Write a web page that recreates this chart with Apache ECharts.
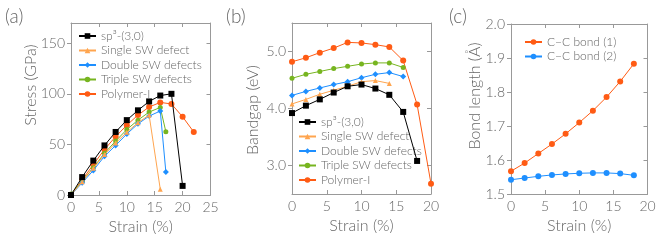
<!DOCTYPE html>
<html><head><meta charset="utf-8">
<script src="https://cdn.jsdelivr.net/npm/echarts@6/dist/echarts.min.js"></script>
<style>html,body{margin:0;padding:0;background:#fff}#c{width:664px;height:240px}</style>
</head><body><div id="c"></div>
<script>
// ---- Panel (a): stress vs strain ----
const stressNames = ['sp³-(3,0)', 'Single SW defect', 'Double SW defects', 'Triple SW defects', 'Polymer-I'];
const stressStrainSp3 = [0, 2, 4, 6, 8, 10, 12, 14, 16, 18, 20];
const stressSp3 = [0, 17.7, 34, 49, 62.3, 74, 83.7, 92.5, 98.3, 100, 9];
const stressStrainSingle = [0, 2, 4, 6, 8, 10, 12, 14, 16];
const stressSingle = [0, 13.2, 26.5, 40, 51.5, 62, 71.5, 79, 5.7];
const stressStrainDouble = [0, 2, 4, 6, 8, 10, 12, 14, 16, 17];
const stressDouble = [0, 12, 24.3, 38.3, 49, 60.3, 70.3, 78, 83, 22.7];
const stressStrainTriple = [0, 2, 4, 6, 8, 10, 12, 14, 16, 17];
const stressTriple = [1, 13.7, 27, 41.3, 53.3, 64.7, 74, 82, 86.5, 62.5];
const stressStrainPolymer = [0, 2, 4, 6, 8, 10, 12, 14, 16, 18, 20, 22];
const stressPolymer = [0, 15, 30, 45, 57.7, 69, 79, 87, 91.5, 90, 77.3, 62.3];
const stressYTicks = [0, 50, 100, 150];

// ---- Panel (b): bandgap vs strain ----
const gapStrainSp3 = [0, 2, 4, 6, 8, 10, 12, 14, 16, 18];
const gapSp3 = [3.92, 4.05, 4.16, 4.28, 4.39, 4.42, 4.35, 4.24, 3.94, 3.08];
const gapStrainSingle = [0, 2, 4, 6, 8, 10, 12, 14];
const gapSingle = [4.08, 4.16, 4.25, 4.32, 4.39, 4.47, 4.49, 4.44];
const gapStrainDouble = [0, 2, 4, 6, 8, 10, 12, 14, 16];
const gapDouble = [4.23, 4.30, 4.36, 4.42, 4.47, 4.54, 4.60, 4.63, 4.56];
const gapStrainTriple = [0, 2, 4, 6, 8, 10, 12, 14, 16];
const gapTriple = [4.53, 4.60, 4.65, 4.70, 4.74, 4.78, 4.80, 4.80, 4.72];
const gapStrainPolymer = [0, 2, 4, 6, 8, 10, 12, 14, 16, 18, 20];
const gapPolymer = [4.82, 4.89, 4.98, 5.06, 5.16, 5.15, 5.12, 5.08, 4.84, 4.07, 2.68];
const gapYTicks = [3, 4, 5];

// ---- Panel (c): bond length vs strain ----
const bondNames = ['C−C bond (1)', 'C−C bond (2)'];
const bondStrain = [0, 2, 4, 6, 8, 10, 12, 14, 16, 18];
const bond1 = [1.567, 1.591, 1.619, 1.647, 1.677, 1.710, 1.745, 1.785, 1.831, 1.883];
const bond2 = [1.542, 1.547, 1.552, 1.556, 1.559, 1.561, 1.562, 1.562, 1.560, 1.555];

const FONT = 'Lato, "Open Sans", sans-serif';
const TXT = '#666';
const AX = '#999';
const colors = ['#000000', '#ffa54f', '#1e8fff', '#77b520', '#ff5b14'];
const symbols = ['rect', 'triangle', 'diamond', 'circle', 'circle'];
const symSizes = [6, 5, 6, 5, 6];

const zip = (xs, ys) => xs.map((x, i) => [x, ys[i]]);

const grids = [
  { left: 71, top: 23, width: 139.5, height: 172 },
  { left: 292, top: 23, width: 139, height: 171 },
  { left: 511, top: 24, width: 136.5, height: 170 }
];

function xAx(gi, min, max, interval, top) {
  return {
    gridIndex: gi, type: 'value', min, max, interval, position: top ? 'top' : 'bottom',
    name: top ? '' : 'Strain (%)', nameLocation: 'middle', nameGap: 23,
    nameTextStyle: { color: TXT, fontSize: 16, fontFamily: FONT, fontWeight: 300 },
    axisLine: { show: true, onZero: false, lineStyle: { color: AX, width: 1 } },
    axisTick: { show: true, inside: true, length: 4, lineStyle: { color: AX } },
    axisLabel: { show: !top, color: TXT, fontSize: 14, fontFamily: FONT, fontWeight: 300, margin: 5 },
    splitLine: { show: false }
  };
}
function yAx(gi, min, max, ticks, right, fmt) {
  const o = {
    gridIndex: gi, type: 'value', min, max, position: right ? 'right' : 'left',
    axisLine: { show: true, onZero: false, lineStyle: { color: AX, width: 1 } },
    axisTick: { show: true, inside: !!right, length: 4, lineStyle: { color: AX } },
    axisLabel: { show: !right, color: TXT, fontSize: 14, fontFamily: FONT, fontWeight: 300, margin: 6, formatter: fmt },
    splitLine: { show: false }
  };
  if (ticks) {
    o.axisTick.customValues = ticks;
    o.axisLabel.customValues = ticks;
  } else {
    o.interval = 0.1;
  }
  return o;
}

function lineSeries(name, data, k, xi, yi) {
  return {
    type: 'line', name, data, xAxisIndex: xi, yAxisIndex: yi,
    symbol: symbols[k], symbolSize: symSizes[k], showSymbol: true,
    lineStyle: { color: colors[k], width: 1 },
    itemStyle: { color: colors[k] }, z: 10 - k, animation: false
  };
}

const seriesA = [
  zip(stressStrainSp3, stressSp3), zip(stressStrainSingle, stressSingle), zip(stressStrainDouble, stressDouble),
  zip(stressStrainTriple, stressTriple), zip(stressStrainPolymer, stressPolymer)
];
const seriesB = [
  zip(gapStrainSp3, gapSp3), zip(gapStrainSingle, gapSingle), zip(gapStrainDouble, gapDouble),
  zip(gapStrainTriple, gapTriple), zip(gapStrainPolymer, gapPolymer)
];

const series = [];
seriesA.forEach((d, k) => series.push(lineSeries(stressNames[k], d, k, 0, 0)));
seriesB.forEach((d, k) => series.push(lineSeries(stressNames[k], d, k, 2, 2)));
series.push(lineSeries(bondNames[0], zip(bondStrain, bond1), 4, 4, 4));
series.push(Object.assign(lineSeries(bondNames[1], zip(bondStrain, bond2), 2, 4, 4), { symbol: 'circle', symbolSize: 6 }));

const legendText = { color: TXT, fontSize: 12, fontFamily: FONT, fontWeight: 300 };
function legend(left, top, names) {
  return {
    left, top, orient: 'vertical', itemGap: 2.5, itemWidth: 17, itemHeight: 7,
    textStyle: legendText, padding: 0, data: names, selectedMode: false
  };
}

function vText(text, x, y) {
  return {
    type: 'text', x, y, rotation: Math.PI / 2,
    style: { text, fill: TXT, font: '300 16px ' + FONT, align: 'center', verticalAlign: 'middle' }
  };
}
function tText(text, x, y) {
  return { type: 'text', x, y, style: { text, fill: TXT, font: '300 19px ' + FONT } };
}

const chart = echarts.init(document.getElementById('c'), null, { renderer: 'canvas' });
chart.setOption({
  animation: false,
  grid: grids.map(g => Object.assign({ containLabel: false }, g)),
  xAxis: [
    xAx(0, 0, 25, 5, false), xAx(0, 0, 25, 5, true),
    xAx(1, 0, 20, 5, false), xAx(1, 0, 20, 5, true),
    xAx(2, 0, 20, 5, false), xAx(2, 0, 20, 5, true)
  ],
  yAxis: [
    yAx(0, 0, 170, stressYTicks, false), yAx(0, 0, 170, stressYTicks, true),
    yAx(1, 2.5, 5.5, gapYTicks, false, v => v.toFixed(1)), yAx(1, 2.5, 5.5, gapYTicks, true),
    yAx(2, 1.5, 2.0, null, false, v => v.toFixed(1)), yAx(2, 1.5, 2.0, null, true)
  ],
  legend: [
    legend(78, 30, stressNames.map((n, k) => ({ name: n }))),
    legend(298, 116, stressNames.slice()),
    legend(524, 36, bondNames.slice())
  ],
  graphic: [
    vText('Stress (GPa)', 31, 85),
    vText('Bandgap (eV)', 253, 110),
    vText('Bond length (Å)', 475, 96),
    tText('(a)', 5, 7), tText('(b)', 226, 7), tText('(c)', 449, 7)
  ],
  series
});
</script>
</body></html>
